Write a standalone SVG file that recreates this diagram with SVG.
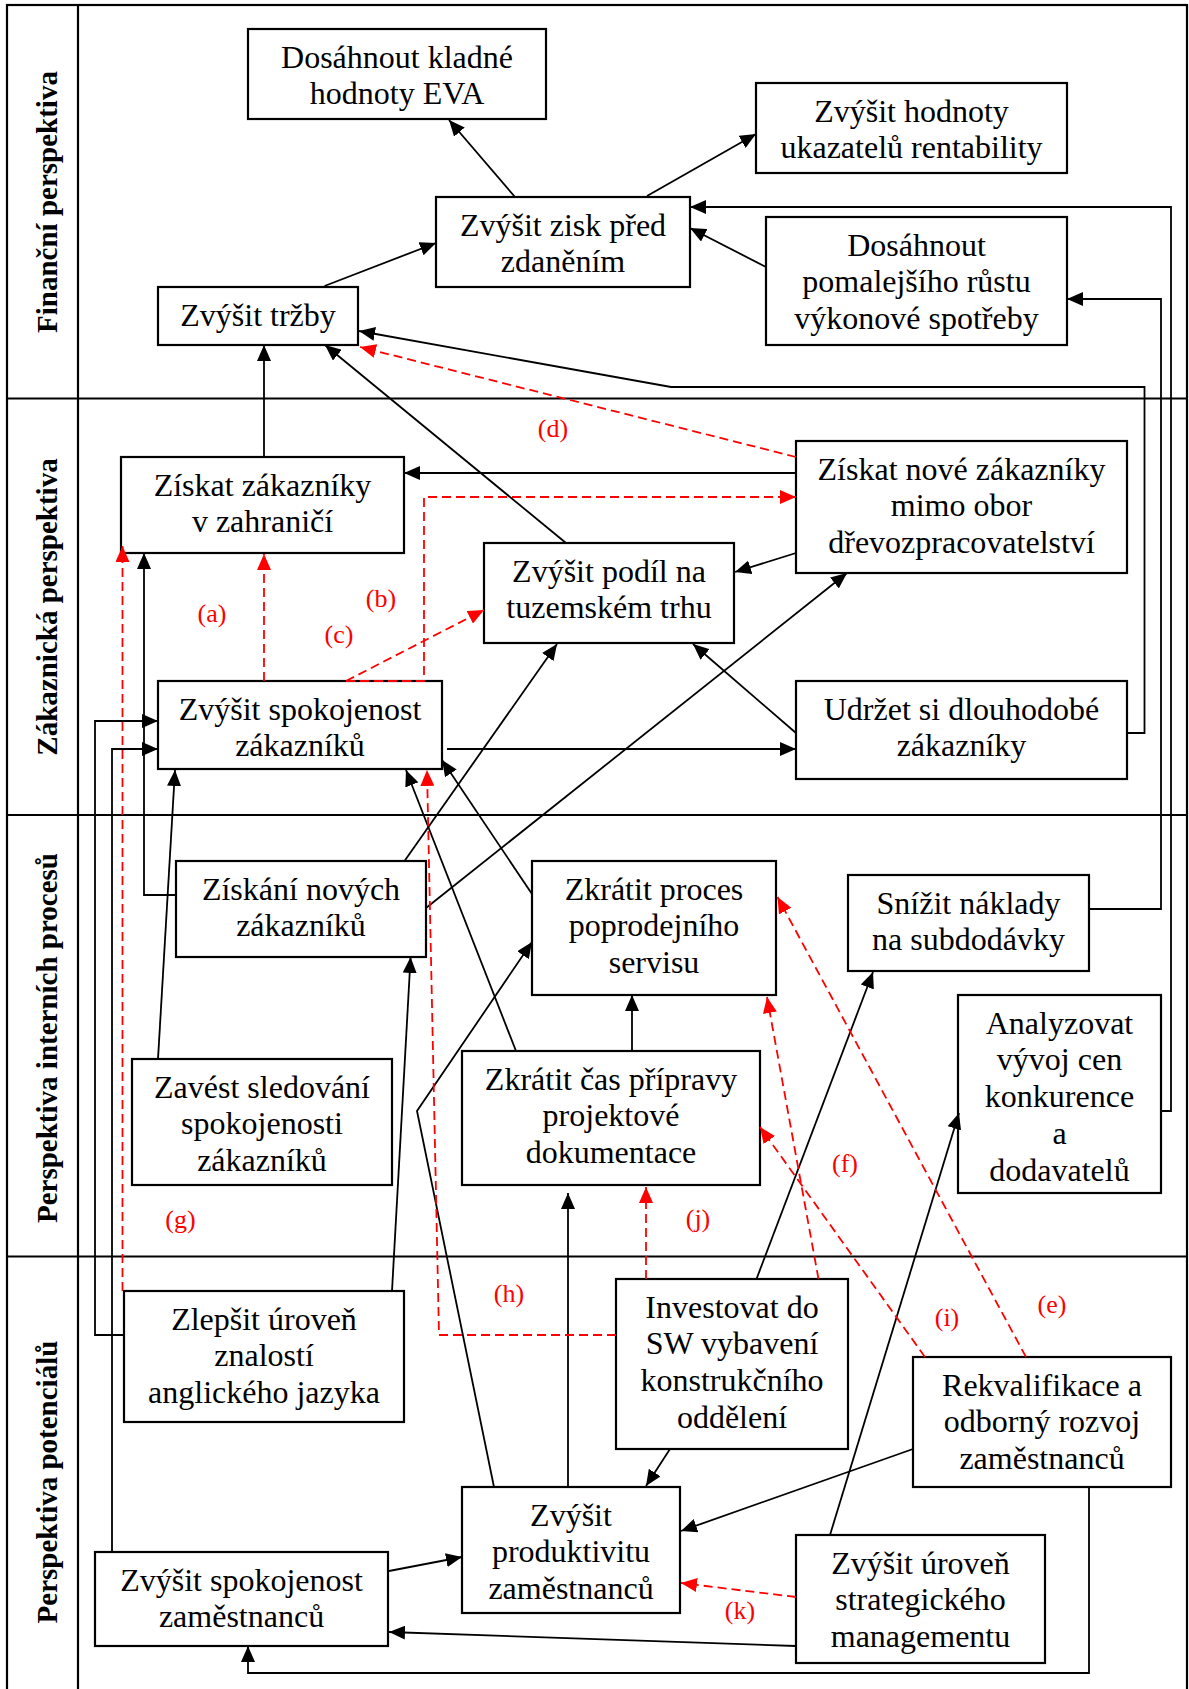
<svg xmlns="http://www.w3.org/2000/svg" width="1189" height="1689" viewBox="0 0 1189 1689">
  <defs>
    <marker id="ah" viewBox="0 0 16 14" refX="16" refY="7" markerWidth="16" markerHeight="14" markerUnits="userSpaceOnUse" orient="auto">
      <path d="M0,0 L16,7 L0,14 z" fill="#000"/>
    </marker>
    <marker id="ahr" viewBox="0 0 16 14" refX="16" refY="7" markerWidth="16" markerHeight="14" markerUnits="userSpaceOnUse" orient="auto">
      <path d="M0,0 L16,7 L0,14 z" fill="#f00"/>
    </marker>
    <style>
      .grid { fill: none; stroke: #000; stroke-width: 2.2; }
      .box { fill: #fff; stroke: #000; stroke-width: 2.2; }
      .t { font-family: "Liberation Serif", "Times New Roman", serif; font-size: 32px; text-anchor: middle; fill: #000; }
      .lane { font-family: "Liberation Serif", "Times New Roman", serif; font-size: 29px; font-weight: bold; text-anchor: middle; fill: #000; }
      .rl { font-family: "Liberation Serif", "Times New Roman", serif; font-size: 26px; text-anchor: middle; fill: #f00; }
      .c { fill: none; stroke: #000; stroke-width: 1.8; marker-end: url(#ah); }
      .cn { fill: none; stroke: #000; stroke-width: 1.8; }
      .r { fill: none; stroke: #f00; stroke-width: 1.8; stroke-dasharray: 9 5; marker-end: url(#ahr); }
    </style>
  </defs>

  <rect width="1189" height="1689" fill="#fff"/>

  <!-- perspective lanes -->
  <g id="lanes">
    <rect class="grid" x="7" y="5" width="1180" height="1700"/>
    <line class="grid" x1="78" y1="5" x2="78" y2="1700"/>
    <line class="grid" x1="7" y1="398.5" x2="1187" y2="398.5"/>
    <line class="grid" x1="7" y1="815" x2="1187" y2="815"/>
    <line class="grid" x1="7" y1="1256.5" x2="1187" y2="1256.5"/>
    <text class="lane" transform="translate(57,202) rotate(-90)">Finanční perspektiva</text>
    <text class="lane" transform="translate(57,607) rotate(-90)">Zákaznická perspektiva</text>
    <text class="lane" transform="translate(57,1038) rotate(-90)">Perspektiva interních procesů</text>
    <text class="lane" transform="translate(57,1482) rotate(-90)">Perspektiva potenciálů</text>
  </g>

  <!-- nodes -->
  <g id="n1"><rect class="box" x="248" y="29" width="298" height="90"/>
    <text class="t"><tspan x="397" y="67.7">Dosáhnout kladné</tspan><tspan x="397" y="104.4">hodnoty EVA</tspan></text></g>
  <g id="n2"><rect class="box" x="756" y="83" width="311" height="90"/>
    <text class="t"><tspan x="911.5" y="121.7">Zvýšit hodnoty</tspan><tspan x="911.5" y="158.4">ukazatelů rentability</tspan></text></g>
  <g id="n3"><rect class="box" x="436" y="197" width="254" height="90"/>
    <text class="t"><tspan x="563" y="235.7">Zvýšit zisk před</tspan><tspan x="563" y="272.4">zdaněním</tspan></text></g>
  <g id="n4"><rect class="box" x="766" y="217" width="301" height="128"/>
    <text class="t"><tspan x="916.5" y="255.7">Dosáhnout</tspan><tspan x="916.5" y="292.4">pomalejšího růstu</tspan><tspan x="916.5" y="329.1">výkonové spotřeby</tspan></text></g>
  <g id="n5"><rect class="box" x="158" y="287" width="200" height="58"/>
    <text class="t"><tspan x="258" y="325.7">Zvýšit tržby</tspan></text></g>
  <g id="n6"><rect class="box" x="121" y="457" width="283" height="96"/>
    <text class="t"><tspan x="262.5" y="495.7">Získat zákazníky</tspan><tspan x="262.5" y="532.4">v zahraničí</tspan></text></g>
  <g id="n7"><rect class="box" x="484" y="543" width="250" height="100"/>
    <text class="t"><tspan x="609" y="581.7">Zvýšit podíl na</tspan><tspan x="609" y="618.4">tuzemském trhu</tspan></text></g>
  <g id="n8"><rect class="box" x="796" y="441" width="331" height="132"/>
    <text class="t"><tspan x="961.5" y="479.7">Získat nové zákazníky</tspan><tspan x="961.5" y="516.4">mimo obor</tspan><tspan x="961.5" y="553.1">dřevozpracovatelství</tspan></text></g>
  <g id="n9"><rect class="box" x="158" y="681" width="284" height="88"/>
    <text class="t"><tspan x="300" y="719.7">Zvýšit spokojenost</tspan><tspan x="300" y="756.4">zákazníků</tspan></text></g>
  <g id="n10"><rect class="box" x="796" y="681" width="331" height="98"/>
    <text class="t"><tspan x="961.5" y="719.7">Udržet si dlouhodobé</tspan><tspan x="961.5" y="756.4">zákazníky</tspan></text></g>
  <g id="n11"><rect class="box" x="176" y="861" width="250" height="96"/>
    <text class="t"><tspan x="301" y="899.7">Získání nových</tspan><tspan x="301" y="936.4">zákazníků</tspan></text></g>
  <g id="n12"><rect class="box" x="532" y="861" width="244" height="134"/>
    <text class="t"><tspan x="654" y="899.7">Zkrátit proces</tspan><tspan x="654" y="936.4">poprodejního</tspan><tspan x="654" y="973.1">servisu</tspan></text></g>
  <g id="n13"><rect class="box" x="848" y="875" width="241" height="96"/>
    <text class="t"><tspan x="968.5" y="913.7">Snížit náklady</tspan><tspan x="968.5" y="950.4">na subdodávky</tspan></text></g>
  <g id="n14"><rect class="box" x="958" y="995" width="203" height="198"/>
    <text class="t"><tspan x="1059.5" y="1033.7">Analyzovat</tspan><tspan x="1059.5" y="1070.4">vývoj cen</tspan><tspan x="1059.5" y="1107.1">konkurence</tspan><tspan x="1059.5" y="1143.8">a</tspan><tspan x="1059.5" y="1180.5">dodavatelů</tspan></text></g>
  <g id="n15"><rect class="box" x="132" y="1059" width="260" height="126"/>
    <text class="t"><tspan x="262" y="1097.7">Zavést sledování</tspan><tspan x="262" y="1134.4">spokojenosti</tspan><tspan x="262" y="1171.1">zákazníků</tspan></text></g>
  <g id="n16"><rect class="box" x="462" y="1051" width="298" height="134"/>
    <text class="t"><tspan x="611" y="1089.7">Zkrátit čas přípravy</tspan><tspan x="611" y="1126.4">projektové</tspan><tspan x="611" y="1163.1">dokumentace</tspan></text></g>
  <g id="n17"><rect class="box" x="124" y="1291" width="280" height="131"/>
    <text class="t"><tspan x="264" y="1329.7">Zlepšit úroveň</tspan><tspan x="264" y="1366.4">znalostí</tspan><tspan x="264" y="1403.1">anglického jazyka</tspan></text></g>
  <g id="n18"><rect class="box" x="616" y="1279" width="232" height="170"/>
    <text class="t"><tspan x="732" y="1317.7">Investovat do</tspan><tspan x="732" y="1354.4">SW vybavení</tspan><tspan x="732" y="1391.1">konstrukčního</tspan><tspan x="732" y="1427.8">oddělení</tspan></text></g>
  <g id="n19"><rect class="box" x="913" y="1357" width="258" height="130"/>
    <text class="t"><tspan x="1042" y="1395.7">Rekvalifikace a</tspan><tspan x="1042" y="1432.4">odborný rozvoj</tspan><tspan x="1042" y="1469.1">zaměstnanců</tspan></text></g>
  <g id="n20"><rect class="box" x="462" y="1487" width="218" height="126"/>
    <text class="t"><tspan x="571" y="1525.7">Zvýšit</tspan><tspan x="571" y="1562.4">produktivitu</tspan><tspan x="571" y="1599.1">zaměstnanců</tspan></text></g>
  <g id="n21"><rect class="box" x="796" y="1535" width="249" height="128"/>
    <text class="t"><tspan x="920.5" y="1573.7">Zvýšit úroveň</tspan><tspan x="920.5" y="1610.4">strategického</tspan><tspan x="920.5" y="1647.1">managementu</tspan></text></g>
  <g id="n22"><rect class="box" x="95" y="1552" width="293" height="94"/>
    <text class="t"><tspan x="241.5" y="1590.7">Zvýšit spokojenost</tspan><tspan x="241.5" y="1627.4">zaměstnanců</tspan></text></g>

  <!-- connectors -->
  <g id="connectors">
    <!-- solid links -->
    <path class="c" d="M515,197 L449,120"/>
    <path class="c" d="M647,196 L756,134"/>
    <path class="c" d="M324.5,286 L436,243"/>
    <path class="c" d="M766,267 L690,228"/>
    <path class="c" d="M1089,909 H1161 V299 H1067"/>
    <path class="c" d="M1127,733 H1144.5 V387 H671 L359,331"/>
    <path class="c" d="M1161,1111 H1171 V207 H690"/>
    <path class="c" d="M264,457 V345"/>
    <path class="c" d="M566,543 L325,345"/>
    <path class="c" d="M796,473 H404"/>
    <path class="c" d="M176,895 H144 V553"/>
    <path class="c" d="M124,1335 H95 V721 H158"/>
    <path class="c" d="M112,1552 V749 H158"/>
    <path class="c" d="M158,1059 L175,770"/>
    <path class="c" d="M404.5,861 L557,644"/>
    <path class="c" d="M426,908 L847,573"/>
    <path class="c" d="M532,894 L442,760"/>
    <path class="c" d="M516,1051 L406,770"/>
    <path class="c" d="M392,1291 L410.6,957"/>
    <path class="c" d="M494,1487 L417,1111 L532,942"/>
    <path class="c" d="M568,1487 V1193"/>
    <path class="c" d="M632,1051 V995"/>
    <path class="c" d="M756.5,1279 L873,972"/>
    <path class="c" d="M830,1535 L959,1113"/>
    <path class="c" d="M670,1449 L646,1486"/>
    <path class="c" d="M913,1449 L681,1531"/>
    <path class="c" d="M796,1646 L389,1632"/>
    <path class="c" d="M1089,1487 V1673 H248 V1646"/>
    <path class="c" d="M389,1571 L462,1557"/>
    <path class="c" d="M796,733 L693,644"/>
    <path class="c" d="M447,749 H796"/>
    <path class="c" d="M796,553 L735,572"/>

    <!-- dashed cause-effect links -->
    <path class="r" d="M796,457 L360,347"/>
    <path class="r" d="M346,681 H424 V497 H796"/>
    <path class="r" d="M346,681 L484,610"/>
    <path class="r" d="M264,681 V554"/>
    <path class="r" d="M122.5,1291 V546"/>
    <path class="r" d="M616,1335 H439 L427,770"/>
    <path class="r" d="M646,1279 V1187"/>
    <path class="r" d="M818.5,1279 L767,997"/>
    <path class="r" d="M925,1357 L760,1127"/>
    <path class="r" d="M1026,1357 L777.5,897"/>
    <path class="r" d="M796,1597 L681,1583"/>

    <text class="rl" x="212" y="622">(a)</text>
    <text class="rl" x="381" y="607">(b)</text>
    <text class="rl" x="339" y="643">(c)</text>
    <text class="rl" x="553" y="437">(d)</text>
    <text class="rl" x="1052" y="1313">(e)</text>
    <text class="rl" x="845" y="1172">(f)</text>
    <text class="rl" x="180.5" y="1228">(g)</text>
    <text class="rl" x="509" y="1302">(h)</text>
    <text class="rl" x="947" y="1326">(i)</text>
    <text class="rl" x="698" y="1227">(j)</text>
    <text class="rl" x="740" y="1619">(k)</text>
  </g>
</svg>
